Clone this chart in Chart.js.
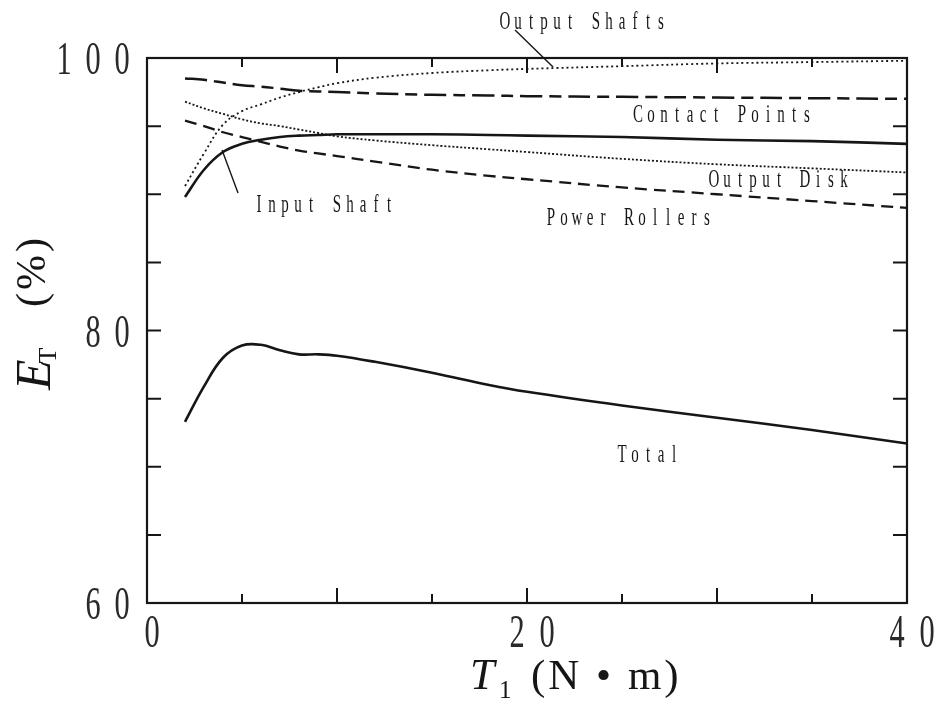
<!DOCTYPE html>
<html><head><meta charset="utf-8">
<script src="https://cdn.jsdelivr.net/npm/chart.js@4.4.0/dist/chart.umd.min.js"></script>
<style>html,body{margin:0;padding:0;background:#fff;}canvas{display:block}</style>
</head><body>
<canvas id="c" width="939" height="706"></canvas>
<script>
// ---- data ----
const torque        = [2, 3, 4, 5, 6, 7, 8, 9, 10, 12, 15, 18, 20, 25, 30, 35, 40];
const totalEff      = [73.3, 75.9, 78.0, 78.9, 78.95, 78.55, 78.25, 78.25, 78.15, 77.7, 76.9, 76.0, 75.5, 74.5, 73.6, 72.7, 71.7];
const inputShaft    = [89.8, 91.8, 93.1, 93.7, 94.0, 94.2, 94.3, 94.35, 94.4, 94.4, 94.4, 94.35, 94.3, 94.2, 94.0, 93.9, 93.7];
const outputShafts  = [90.6, 93.0, 95.1, 96.1, 96.6, 97.1, 97.5, 97.85, 98.15, 98.55, 98.9, 99.1, 99.2, 99.4, 99.6, 99.7, 99.8];
const contactPoints = [98.5, 98.4, 98.2, 98.0, 97.9, 97.75, 97.6, 97.55, 97.5, 97.4, 97.3, 97.25, 97.2, 97.15, 97.1, 97.05, 97.0];
const outputDisk    = [96.8, 96.3, 95.9, 95.5, 95.2, 95.0, 94.75, 94.5, 94.25, 93.95, 93.6, 93.3, 93.1, 92.6, 92.2, 91.9, 91.6];
const powerRollers  = [95.4, 95.0, 94.55, 94.2, 93.85, 93.5, 93.2, 93.0, 92.8, 92.4, 91.8, 91.35, 91.1, 90.5, 90.0, 89.5, 89.0];

const xTickLabels = ['0', '20', '40'];
const yTickLabels = ['60', '80', '100'];
const xMinorTicks = [5, 10, 15, 20, 25, 30, 35];
const yMinorTicks = [65, 70, 75, 80, 85, 90, 95];

const seriesLabels = ['Total', 'Input Shaft', 'Output Shafts', 'Contact Points', 'Output Disk', 'Power Rollers'];

const pts = arr => torque.map((x, i) => ({x: x, y: arr[i]}));
const INK = '#161616';

function drawChars(ctx, text, cx0, baseline, pitch, font, sx) {
  ctx.font = font;
  ctx.textAlign = 'center';
  ctx.textBaseline = 'alphabetic';
  for (let i = 0; i < text.length; i++) {
    const ch = text[i];
    if (ch === ' ') continue;
    ctx.save();
    ctx.translate(cx0 + i * pitch, baseline);
    ctx.scale(sx, 1);
    ctx.fillText(ch, 0, 0);
    ctx.restore();
  }
}

const decor = {
  id: 'decor',
  afterDatasetsDraw(chart) {
    const ctx = chart.ctx;
    const xs = chart.scales.x, ys = chart.scales.y;
    const a = chart.chartArea;
    ctx.save();
    ctx.strokeStyle = INK;
    ctx.fillStyle = INK;
    // frame
    ctx.lineWidth = 2.2;
    ctx.strokeRect(a.left, a.top, a.right - a.left, a.bottom - a.top);
    // inward ticks
    ctx.lineWidth = 2;
    ctx.beginPath();
    xMinorTicks.forEach(v => {
      const px = xs.getPixelForValue(v);
      const len = (v % 10 === 0) ? 15 : 9;
      ctx.moveTo(px, a.bottom); ctx.lineTo(px, a.bottom - len);
      ctx.moveTo(px, a.top); ctx.lineTo(px, a.top + len);
    });
    yMinorTicks.forEach(v => {
      const py = ys.getPixelForValue(v);
      ctx.moveTo(a.left, py); ctx.lineTo(a.left + 14, py);
      ctx.moveTo(a.right, py); ctx.lineTo(a.right - 14, py);
    });
    ctx.stroke();

    // tick labels
    ctx.fillStyle = '#2a2a2a';
    const tickFont = '46px "Liberation Serif"';
    yTickLabels.forEach(lab => {
      const py = ys.getPixelForValue(Number(lab));
      const n = lab.length;
      const lastC = a.left - 25;
      drawChars(ctx, lab, lastC - (n - 1) * 29, py + 16, 29, tickFont, 0.66);
    });
    xTickLabels.forEach(lab => {
      const px = xs.getPixelForValue(Number(lab)) + 5;
      const n = lab.length;
      drawChars(ctx, lab, px - (n - 1) * 15, a.bottom + 44, 30, tickFont, 0.66);
    });
    ctx.fillStyle = INK;

    // x axis title  T1 (N • m)
    ctx.textAlign = 'left';
    ctx.textBaseline = 'alphabetic';
    ctx.font = 'italic 44px "Liberation Serif"';
    ctx.fillText('T', 470, a.bottom + 86);
    ctx.font = '25px "Liberation Serif"';
    ctx.fillText('1', 499, a.bottom + 95);
    ctx.font = '43px "Liberation Serif"';
    ctx.letterSpacing = '3px';
    ctx.fillText('(N • m)', 531, a.bottom + 86);
    ctx.letterSpacing = '0px';

    // y axis title  E_T (%)
    ctx.save();
    ctx.translate(50, 390);
    ctx.rotate(-Math.PI / 2);
    ctx.font = 'italic 50px "Liberation Serif"';
    ctx.fillText('E', 0, 0);
    const ew = ctx.measureText('E').width;
    ctx.font = '26px "Liberation Serif"';
    ctx.fillText('T', ew - 4, 6);
    ctx.font = '42px "Liberation Serif"';
    ctx.letterSpacing = '3px';
    ctx.fillText('(%)', 83, -5);
    ctx.letterSpacing = '0px';
    ctx.restore();

    // curve annotations
    const annFont = '25px "Liberation Serif"';
    const ann = [
      [seriesLabels[2], 505, 29],
      [seriesLabels[3], 638, 122],
      [seriesLabels[4], 714, 187],
      [seriesLabels[1], 259, 212],
      [seriesLabels[5], 551, 225],
      [seriesLabels[0], 622, 462]
    ];
    ann.forEach(([t, x, y]) => drawChars(ctx, t, x, y, 13, annFont, 0.6));

    // leader lines (anchored in data coordinates)
    ctx.lineWidth = 1.4;
    ctx.beginPath();
    ctx.moveTo(xs.getPixelForValue(19.37), ys.getPixelForValue(102.06));
    ctx.lineTo(xs.getPixelForValue(21.37), ys.getPixelForValue(99.34));
    ctx.moveTo(xs.getPixelForValue(3.95), ys.getPixelForValue(93.25));
    ctx.lineTo(xs.getPixelForValue(4.79), ys.getPixelForValue(90.09));
    ctx.stroke();
    ctx.restore();
  }
};

const base = {pointRadius: 0, fill: false, borderColor: INK, tension: 0.4, borderCapStyle: 'butt'};

new Chart(document.getElementById('c'), {
  type: 'line',
  data: {
    datasets: [
      Object.assign({label: seriesLabels[0], data: pts(totalEff), borderWidth: 2.6}, base),
      Object.assign({label: seriesLabels[1], data: pts(inputShaft), borderWidth: 2.6}, base),
      Object.assign({label: seriesLabels[2], data: pts(outputShafts), borderWidth: 1.8, borderDash: [2, 3]}, base),
      Object.assign({label: seriesLabels[3], data: pts(contactPoints), borderWidth: 2.5, borderDash: [22, 7, 12, 7]}, base),
      Object.assign({label: seriesLabels[4], data: pts(outputDisk), borderWidth: 1.8, borderDash: [2, 2]}, base),
      Object.assign({label: seriesLabels[5], data: pts(powerRollers), borderWidth: 2.3, borderDash: [12, 7]}, base)
    ]
  },
  options: {
    responsive: false,
    devicePixelRatio: 1,
    animation: false,
    layout: {padding: {left: 147, right: 32, top: 58, bottom: 103}},
    plugins: {legend: {display: false}, tooltip: {enabled: false}},
    scales: {
      x: {type: 'linear', min: 0, max: 40, display: false},
      y: {type: 'linear', min: 60, max: 100, display: false}
    }
  },
  plugins: [decor]
});
</script>
</body></html>
